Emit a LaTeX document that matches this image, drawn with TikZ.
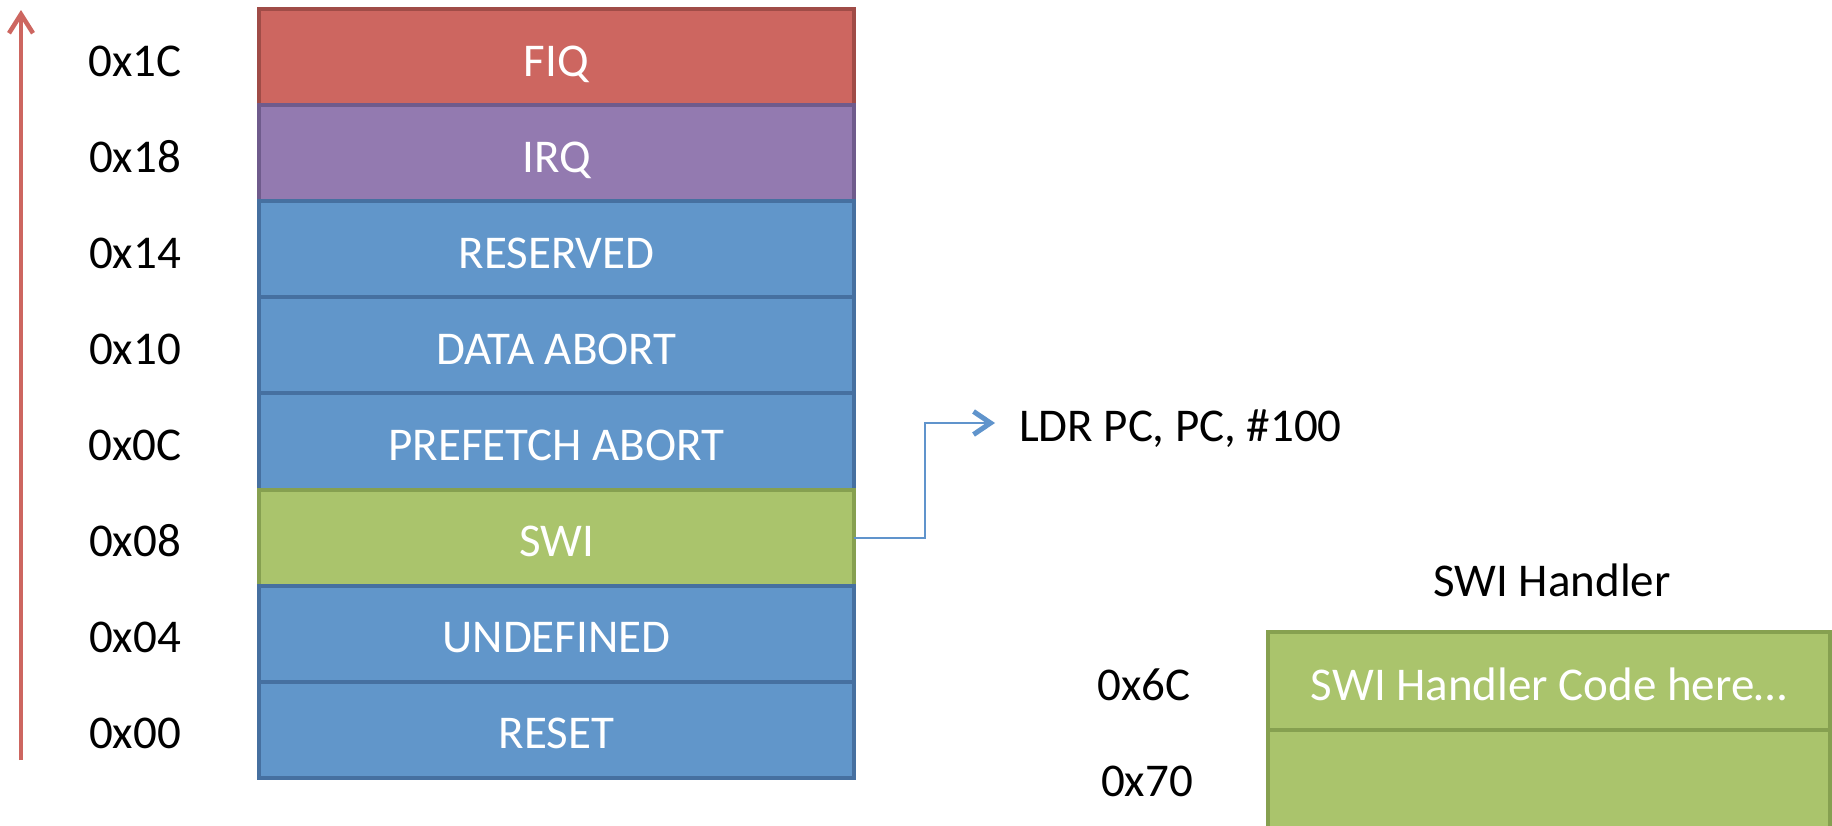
\documentclass[tikz,border=0pt]{standalone}
\usepackage{fontspec}
\setmainfont{Carlito}
\usetikzlibrary{arrows.meta}

\definecolor{redfill}{RGB}{205,102,96}
\definecolor{redline}{RGB}{160,76,71}
\definecolor{purplefill}{RGB}{147,122,176}
\definecolor{purpleline}{RGB}{111,91,140}
\definecolor{bluefill}{RGB}{97,150,202}
\definecolor{blueline}{RGB}{70,112,160}
\definecolor{greenfill}{RGB}{170,196,108}
\definecolor{greenline}{RGB}{134,160,80}
\definecolor{linkblue}{RGB}{96,148,204}

\tikzset{
  txt/.style={font=\fontsize{47}{56}\selectfont, inner sep=0pt, outer sep=0pt,
              text height=38pt, text depth=0pt},
  vecbox/.style={txt, rectangle, draw, line width=4pt, text=white,
                 minimum width=595pt, minimum height=96.1pt},
  hndbox/.style={txt, rectangle, draw=greenline, fill=greenfill, line width=4pt,
                 text=white, minimum width=562pt, minimum height=98pt},
  addrlbl/.style={txt, text=black},
  redbox/.style={vecbox, fill=redfill, draw=redline},
  purplebox/.style={vecbox, fill=purplefill, draw=purpleline},
  bluebox/.style={vecbox, fill=bluefill, draw=blueline},
  greenbox/.style={vecbox, fill=greenfill, draw=greenline},
}

\begin{document}
\begin{tikzpicture}[x=1pt, y=-1pt]
  \clip (0,0) rectangle (1832,825);
  \fill[white] (0,0) rectangle (1832,825);

  % address direction arrow
  \coordinate (arrbot) at (21,760);
  \coordinate (arrtop) at (21,10);
  \draw[redfill, line width=3.5pt,
        -{Straight Barb[length=19pt, width=24pt, line width=4.5pt]}]
    (arrbot) -- (arrtop);

  % exception vector table
  \node[redbox]    (fiq)   at (556.5, 57.05)  {FIQ};
  \node[purplebox] (irq)   at (556.5, 153.15) {IRQ};
  \node[bluebox]   (res)   at (556.5, 249.25) {RESERVED};
  \node[bluebox]   (dab)   at (556.5, 345.35) {DATA ABORT};
  \node[bluebox]   (pab)   at (556.5, 441.45) {PREFETCH ABORT};
  \node[greenbox]  (swi)   at (556.5, 537.55) {SWI};
  \node[bluebox]   (und)   at (556.5, 633.65) {UNDEFINED};
  \node[bluebox]   (rst)   at (556.5, 729.75) {RESET};

  % vector addresses
  \node[addrlbl] (a1c) at (135, 57.05)  {0x1C};
  \node[addrlbl] (a18) at (135, 153.15) {0x18};
  \node[addrlbl] (a14) at (135, 249.25) {0x14};
  \node[addrlbl] (a10) at (135, 345.35) {0x10};
  \node[addrlbl] (a0c) at (135, 441.45) {0x0C};
  \node[addrlbl] (a08) at (135, 537.55) {0x08};
  \node[addrlbl] (a04) at (135, 633.65) {0x04};
  \node[addrlbl] (a00) at (135, 729.75) {0x00};

  % instruction stored at the SWI vector
  \node[addrlbl, anchor=west] (ldr) at (1019, 422) {LDR PC, PC, \#100};
  \coordinate (ldrin) at (995, 423);
  \draw[linkblue, line width=2pt,
        -{Straight Barb[length=17pt, width=23pt, line width=5pt]}]
    (swi.east) -- ++(71,0) |- (ldrin);

  % SWI handler
  \node[addrlbl] (hndtitle) at (1552, 577) {SWI Handler};
  \node[hndbox] (hnd1) at (1549, 681) {SWI Handler Code here…};
  \node[hndbox, anchor=north] (hnd2) at (hnd1.south) {};
  \node[addrlbl] (a6c) at (1144, 681) {0x6C};
  \node[addrlbl] (a70) at (1147, 777) {0x70};
\end{tikzpicture}
\end{document}
